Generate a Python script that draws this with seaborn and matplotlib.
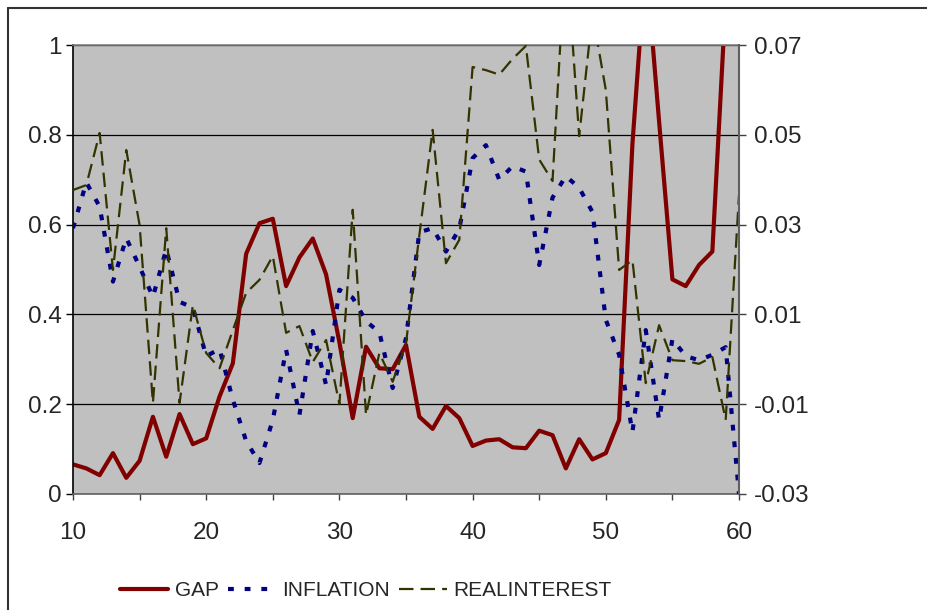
import matplotlib
matplotlib.use("Agg")
import numpy as np
import pandas as pd
import matplotlib.pyplot as plt
import seaborn as sns
from matplotlib import font_manager
from matplotlib.lines import Line2D
from matplotlib.font_manager import FontProperties

# ---------------- data ----------------
periods = list(range(10, 61))

gap = [0.066, 0.057, 0.042, 0.091, 0.036, 0.074, 0.172, 0.083, 0.178, 0.111,
       0.124, 0.217, 0.291, 0.535, 0.603, 0.613, 0.463, 0.527, 0.569, 0.489,
       0.338, 0.169, 0.328, 0.280, 0.278, 0.332, 0.172, 0.145, 0.196, 0.169,
       0.107, 0.119, 0.122, 0.104, 0.102, 0.141, 0.131, 0.057, 0.122, 0.077,
       0.091, 0.165, 0.780, 1.190, 0.830, 0.478, 0.463, 0.510, 0.540, 1.100,
       1.300]

inflation = [0.0292, 0.0394, 0.0340, 0.0173, 0.0270, 0.0206, 0.0139, 0.0245, 0.0128, 0.0115,
             0.0007, 0.0023, -0.0090, -0.0182, -0.0231, -0.0135, 0.0021, -0.0124, 0.0063, -0.0057,
             0.0155, 0.0137, 0.0085, 0.0060, -0.0064, 0.0047, 0.0283, 0.0292, 0.0240, 0.0290,
             0.0448, 0.0477, 0.0400, 0.0430, 0.0418, 0.0210, 0.0360, 0.0408, 0.0382, 0.0328,
             0.0088, 0.0010, -0.0162, 0.0065, -0.0135, 0.0045, 0.0007, -0.0002, 0.0010, 0.0027,
             -0.0300]

realinterest = [0.0377, 0.0388, 0.0504, 0.0199, 0.0466, 0.0299, -0.0097, 0.0292, -0.0097, 0.0121,
                0.0014, -0.0020, 0.0065, 0.0148, 0.0177, 0.0230, 0.0059, 0.0074, -0.0006, 0.0043,
                -0.0100, 0.0333, -0.0124, 0.0014, -0.0050, 0.0036, 0.0276, 0.0511, 0.0214, 0.0266,
                0.0651, 0.0644, 0.0634, 0.0669, 0.0698, 0.0445, 0.0397, 0.0920, 0.0497, 0.0770,
                0.0600, 0.0199, 0.0221, -0.0053, 0.0076, -0.0002, -0.0004, -0.0010, 0.0005, -0.0135,
                0.0366]

series_names = ["GAP", "INFLATION", "REALINTEREST"]

left_ticks = [0, 0.2, 0.4, 0.6, 0.8, 1.0]
left_labels = ["0", "0.2", "0.4", "0.6", "0.8", "1"]
right_ticks = [-0.03, -0.01, 0.01, 0.03, 0.05, 0.07]
right_labels = ["-0.03", "-0.01", "0.01", "0.03", "0.05", "0.07"]
x_ticks = [10, 15, 20, 25, 30, 35, 40, 45, 50, 55, 60]
x_labels = ["10", "", "20", "", "30", "", "40", "", "50", "", "60"]

# ---------------- style ----------------
sns.set_style("white")
available = {f.name for f in font_manager.fontManager.ttflist}
base_font = "Liberation Sans" if "Liberation Sans" in available else "DejaVu Sans"
narrow_font = "Liberation Sans Narrow" if "Liberation Sans Narrow" in available else base_font
legend_size = 17.5 if narrow_font != base_font else 15
plt.rcParams["font.family"] = [base_font, "DejaVu Sans"]

df = pd.DataFrame({"period": periods, "GAP": gap,
                   "INFLATION": inflation, "REALINTEREST": realinterest})

W, H = 928, 610
fig = plt.figure(figsize=(W / 100, H / 100), dpi=100)
fig.patch.set_facecolor("white")
ax = fig.add_axes([73 / W, 116 / H, 666 / W, 449 / H])
ax2 = ax.twinx()
ax.set_facecolor("#C0C0C0")

sns.lineplot(data=df, x="period", y="GAP", ax=ax, color="#800000",
             linewidth=3.0, label="GAP", legend=False)
sns.lineplot(data=df, x="period", y="INFLATION", ax=ax2, color="#000080",
             linewidth=3.0, linestyle=(0, (1.4, 2.6)), label="INFLATION", legend=False)
sns.lineplot(data=df, x="period", y="REALINTEREST", ax=ax2, color="#333300",
             linewidth=1.6, linestyle=(0, (6.5, 3.2)), label="REALINTEREST", legend=False)

for a in (ax, ax2):
    if a.get_legend() is not None:
        a.get_legend().remove()
    a.set_xlabel("")
    a.set_ylabel("")

ax.set_xlim(10, 60)
ax.set_ylim(0, 1)
ax2.set_ylim(-0.03, 0.07)

ax.set_xticks(x_ticks)
ax.set_xticklabels(x_labels)
ax.set_yticks(left_ticks)
ax.set_yticklabels(left_labels)
ax2.set_yticks(right_ticks)
ax2.set_yticklabels(right_labels)

ax.yaxis.grid(True, color="black", linewidth=0.9)
ax.xaxis.grid(False)
ax2.grid(False)

ax.tick_params(axis="y", direction="out", length=5, width=1, color="black",
               labelsize=17.5, pad=3, left=True)
ax.tick_params(axis="x", direction="out", length=4.5, width=1, color="#404040",
               labelsize=17.5, pad=16, bottom=True)
ax2.tick_params(axis="y", direction="out", length=5, width=1, color="#404040",
                labelsize=17.5, pad=6, right=True)

for name, sp in ax.spines.items():
    sp.set_visible(True)
    sp.set_linewidth(1.2)
ax.spines["left"].set_color("black")
ax.spines["bottom"].set_color("#606060")
ax.spines["top"].set_color("#808080")
ax.spines["right"].set_visible(False)
for name in ("left", "top", "bottom"):
    ax2.spines[name].set_visible(False)
ax2.spines["right"].set_color("#606060")
ax2.spines["right"].set_linewidth(1.5)

# outer chart frame
fig.add_artist(Line2D([8 / W, 8 / W], [0, 1 - 8 / H], transform=fig.transFigure,
                      color="#333333", linewidth=1.5))
fig.add_artist(Line2D([8 / W, 1], [1 - 8 / H, 1 - 8 / H], transform=fig.transFigure,
                      color="#333333", linewidth=1.5))

handles = ax.get_lines()[:1] + ax2.get_lines()[:2]
handle_len = 48 / (legend_size * 100 / 72)
fig.legend(handles, series_names, loc="center",
           bbox_to_anchor=(366 / W, 1 - 591 / H), ncol=3, frameon=False,
           prop=FontProperties(family=narrow_font, size=legend_size),
           handlelength=handle_len, handletextpad=0.3, columnspacing=0.45,
           borderaxespad=0, borderpad=0)

fig.savefig("out.png", dpi=100, facecolor="white")
